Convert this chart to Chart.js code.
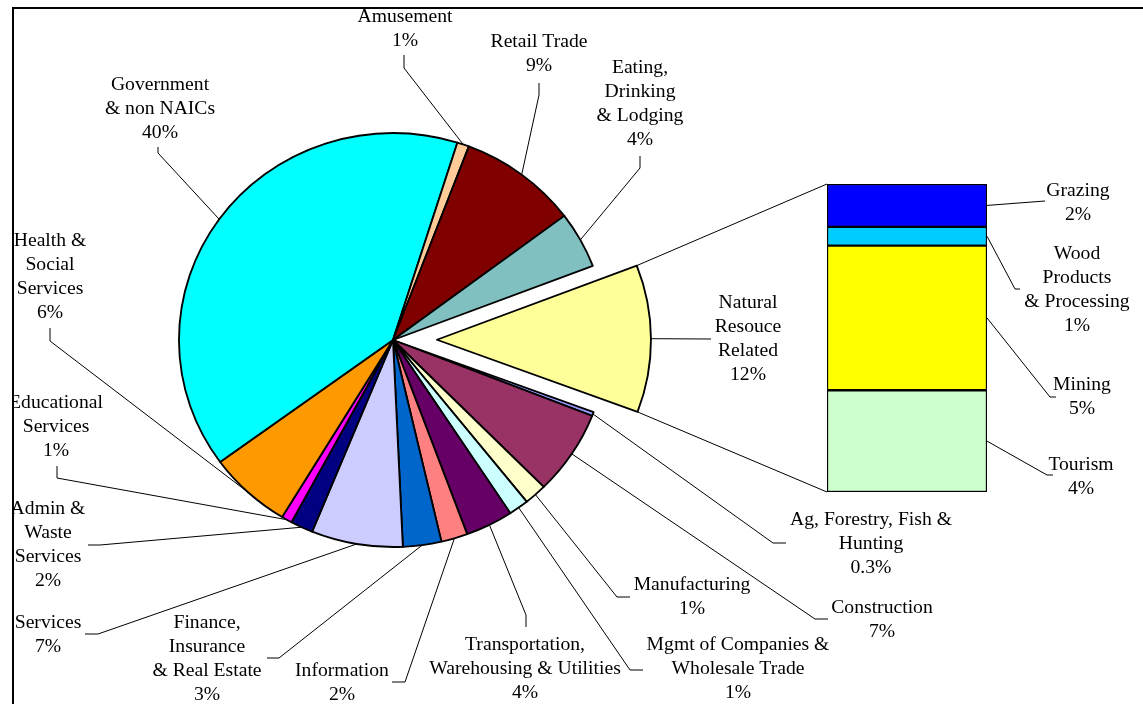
<!DOCTYPE html>
<html><head><meta charset="utf-8">
<script src="https://cdn.jsdelivr.net/npm/chart.js@4.4.1/dist/chart.umd.min.js"></script>
<style>
html,body{margin:0;padding:0;background:#fff;overflow:hidden}
#wrap{position:relative;width:1143px;height:704px;background:#fff}
canvas{position:absolute;left:0;top:0}
</style></head><body>
<div id="wrap"><canvas id="pie" width="1143" height="704"></canvas><canvas id="bar" width="1143" height="704"></canvas></div>
<script>
// ---------- DATA ----------
const categories = [
  ['Natural','Resouce','Related'],
  ['Ag, Forestry, Fish &','Hunting'],
  ['Construction'],
  ['Manufacturing'],
  ['Mgmt of Companies &','Wholesale Trade'],
  ['Transportation,','Warehousing & Utilities'],
  ['Information'],
  ['Finance,','Insurance','& Real Estate'],
  ['Services'],
  ['Admin &','Waste','Services'],
  ['Educational','Services'],
  ['Health &','Social','Services'],
  ['Government','& non NAICs'],
  ['Amusement'],
  ['Retail Trade'],
  ['Eating,','Drinking','& Lodging']
];
const values = [11.5, 0.3, 6.6, 1.7, 1.5, 3.6, 2.0, 2.9, 6.9, 1.7, 0.8, 6.3, 39.9, 0.9, 9.0, 4.4];
const percentLabels = ['12%','0.3%','7%','1%','1%','4%','2%','3%','7%','2%','1%','6%','40%','1%','9%','4%'];

const subCategories = [['Grazing'],['Wood','Products','& Processing'],['Mining'],['Tourism']];
const subValues = [1.6, 0.7, 5.4, 3.8];
const subPercentLabels = ['2%','1%','5%','4%'];

// ---------- STYLE ----------
const sliceColors = ['#FFFF99','#9999FF','#993366','#FFFFCC','#CCFFFF','#660066','#FF8080','#0066CC',
                     '#CCCCFF','#000080','#FF00FF','#FF9900','#00FFFF','#FFCC99','#800000','#80C0C0'];
const subColors = ['#0000FF','#00CCFF','#FFFF00','#CCFFCC'];

// ---------- LAYOUT ----------
const SX = 1.034;            // horizontal stretch of the pie (as in the original)
const PIE_RADIUS = 207;
const EXPLODE_PX = 42.5;     // exploded distance of the first slice
const EXPLODED_INDEX = 0;
const LINE_H = 24;
const FONT = '19px "Liberation Serif", "Times New Roman", serif';
const pieLabelLayout = [
  {x:748, y:303, end:[711,339], elbow:[711,339]},
  {x:871, y:520, end:[786,543], elbow:[773,543]},
  {x:882, y:608, end:[828,619], elbow:[815,619]},
  {x:692, y:585, end:[630,597], elbow:[617,597]},
  {x:738, y:645, end:[643,670], elbow:[630,670]},
  {x:525, y:645, end:[526,627], elbow:[526,615]},
  {x:342, y:671, end:[392,682], elbow:[405,682]},
  {x:207, y:623, end:[267,658], elbow:[279,658]},
  {x:48,  y:623, end:[85,634],  elbow:[98,634]},
  {x:48,  y:509, end:[88,545],  elbow:[100,545]},
  {x:56,  y:403, end:[57,466],  elbow:[57,478]},
  {x:50,  y:241, end:[50,328],  elbow:[50,341]},
  {x:160, y:85,  end:[158,147], elbow:[158,153]},
  {x:405, y:17,  end:[404,55],  elbow:[404,68]},
  {x:539, y:42,  end:[539,83],  elbow:[539,95]},
  {x:640, y:68,  end:[640,156], elbow:[640,168]}
];
const subLabelLayout = [
  {x:1078, y:191, end:[1045,201], elbow:[1045,201]},
  {x:1077, y:254, end:[1020,289], elbow:[1015,289]},
  {x:1082, y:385, end:[1056,397], elbow:[1050,397]},
  {x:1081, y:465, end:[1053,475], elbow:[1047,475]}
];

function drawText(ctx, lines, x, y){
  ctx.save();
  ctx.font = FONT; ctx.fillStyle = '#000';
  ctx.textAlign = 'center'; ctx.textBaseline = 'middle';
  lines.forEach((t,i)=>{
    ctx.save(); ctx.translate(x, y + i*LINE_H); ctx.scale(SX,1);
    ctx.fillText(t,0,0); ctx.restore();
  });
  ctx.restore();
}
function drawLeader(ctx, end, elbow, target){
  ctx.save();
  ctx.strokeStyle = '#000'; ctx.lineWidth = 1;
  ctx.beginPath(); ctx.moveTo(end[0],end[1]); ctx.lineTo(elbow[0],elbow[1]); ctx.lineTo(target[0],target[1]);
  ctx.stroke(); ctx.restore();
}
function pieCenterX(chart){ return (chart.chartArea.left + chart.chartArea.right)/2; }
function arcPoint(chart, el, angle){
  const cx0 = pieCenterX(chart);
  const px = el.x + Math.cos(angle)*el.outerRadius;
  const py = el.y + Math.sin(angle)*el.outerRadius;
  return [cx0 + (px - cx0)*SX, py];
}
function clipPlot(ctx){
  ctx.beginPath(); ctx.rect(14, 9, 1129, 695); ctx.clip();
}

const piePlugin = {
  id:'pieDecor',
  afterDatasetUpdate(chart){
    // pull the first slice out of the pie (exploded slice)
    const el = chart.getDatasetMeta(0).data[EXPLODED_INDEX];
    const mid = (el.startAngle + el.endAngle)/2;
    el.x += Math.cos(mid)*EXPLODE_PX;
    el.y += Math.sin(mid)*EXPLODE_PX;
  },
  beforeDatasetsDraw(chart){
    const cx0 = pieCenterX(chart);
    const ctx = chart.ctx;
    ctx.save();
    ctx.translate(cx0,0); ctx.scale(SX,1); ctx.translate(-cx0,0);
  },
  afterDatasetsDraw(chart){ chart.ctx.restore(); },
  afterDraw(chart){
    const ctx = chart.ctx;
    const arcs = chart.getDatasetMeta(0).data;
    ctx.save();
    clipPlot(ctx);
    arcs.forEach((el,i)=>{
      const L = pieLabelLayout[i];
      const rim = arcPoint(chart, el, (el.startAngle+el.endAngle)/2);
      drawLeader(ctx, L.end, L.elbow, rim);
      drawText(ctx, categories[i].concat([percentLabels[i]]), L.x, L.y);
    });
    ctx.restore();
    // plot frame
    ctx.save(); ctx.fillStyle = '#000';
    ctx.fillRect(12, 7, 2, 697);
    ctx.fillRect(12, 7, 1131, 2);
    ctx.restore();
  }
};

const pieChart = new Chart(document.getElementById('pie'), {
  type:'pie',
  data:{
    labels: categories,
    datasets:[{
      data: values,
      backgroundColor: sliceColors,
      borderColor:'#000',
      borderWidth:1.8,
      borderJoinStyle:'round',
      clip:false
    }]
  },
  options:{
    responsive:false, animation:false, events:[],
    rotation:69,
    radius: PIE_RADIUS,
    layout:{padding:{left:0, right:1143-786, top:0, bottom:704-680}},
    plugins:{legend:{display:false}, tooltip:{enabled:false}}
  },
  plugins:[piePlugin]
});

const barPlugin = {
  id:'barDecor',
  afterDraw(chart){
    const ctx = chart.ctx;
    const n = subValues.length;
    const barEl = i => chart.getDatasetMeta(n-1-i).data[0];
    // connector lines from exploded slice to the bar
    const nat = pieChart.getDatasetMeta(0).data[EXPLODED_INDEX];
    const p1 = arcPoint(pieChart, nat, nat.startAngle);
    const p2 = arcPoint(pieChart, nat, nat.endAngle);
    const top = barEl(0), bottom = barEl(n-1);
    ctx.save(); ctx.strokeStyle='#000'; ctx.lineWidth=1;
    ctx.beginPath();
    ctx.moveTo(p1[0],p1[1]); ctx.lineTo(top.x - top.width/2, top.y);
    ctx.moveTo(p2[0],p2[1]); ctx.lineTo(bottom.x - bottom.width/2, bottom.base);
    ctx.stroke(); ctx.restore();
    ctx.save(); clipPlot(ctx);
    for(let i=0;i<n;i++){
      const el = barEl(i), L = subLabelLayout[i];
      const tgt = [el.x + el.width/2, (el.y + el.base)/2];
      drawLeader(ctx, L.end, L.elbow, tgt);
      drawText(ctx, subCategories[i].concat([subPercentLabels[i]]), L.x, L.y);
    }
    ctx.restore();
  }
};

const barChart = new Chart(document.getElementById('bar'), {
  type:'bar',
  data:{
    labels:['Natural Resouce Related'],
    datasets: subValues.map((v,i)=>({
      label: subCategories[i].join(' '),
      data:[v],
      backgroundColor: subColors[i],
      borderColor:'#000',
      borderWidth:1.5,
      borderSkipped:false,
      barPercentage:1,
      categoryPercentage:1
    })).reverse()
  },
  options:{
    responsive:false, animation:false, events:[],
    layout:{padding:{left:827, right:1143-987, top:184, bottom:704-492}},
    scales:{
      x:{stacked:true, display:false},
      y:{stacked:true, display:false, min:0, max: subValues.reduce((a,b)=>a+b,0)}
    },
    plugins:{legend:{display:false}, tooltip:{enabled:false}}
  },
  plugins:[barPlugin]
});
</script>
</body></html>
